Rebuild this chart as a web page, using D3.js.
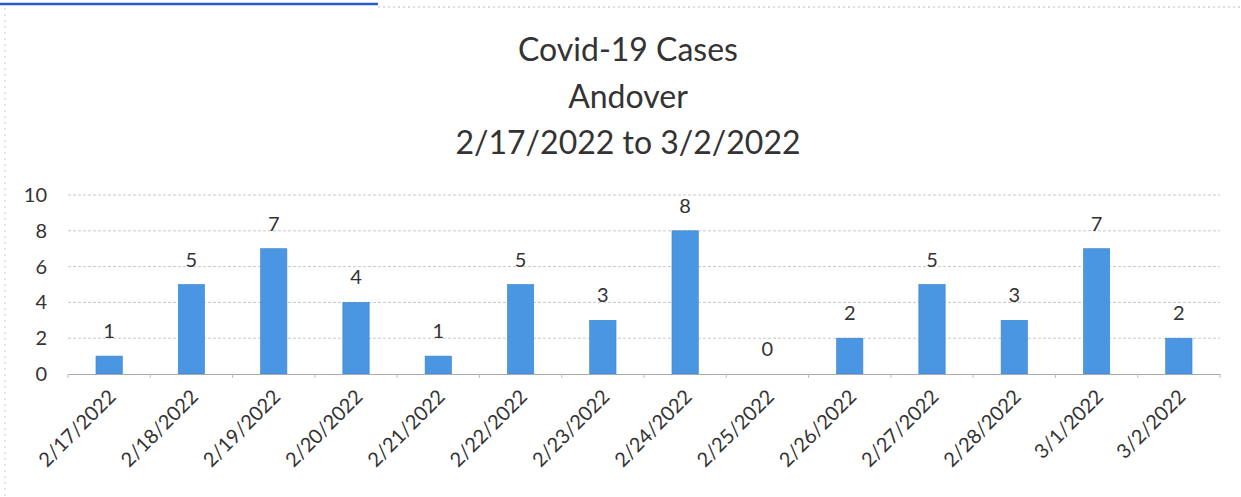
<!DOCTYPE html>
<html><head><meta charset="utf-8">
<script src="https://cdn.jsdelivr.net/npm/d3@7"></script>
<style>body{margin:0;background:#fff}svg{display:block}</style>
</head><body>
<svg id="c" width="1241" height="497"></svg>
<script>
const dates = ["2/17/2022","2/18/2022","2/19/2022","2/20/2022","2/21/2022","2/22/2022","2/23/2022","2/24/2022","2/25/2022","2/26/2022","2/27/2022","2/28/2022","3/1/2022","3/2/2022"];
const cases = [1,5,7,4,1,5,3,8,0,2,5,3,7,2];
const yTicks = [0,2,4,6,8,10];
const titleLines = ["Covid-19 Cases","Andover","2/17/2022 to 3/2/2022"];

const svg = d3.select("#c");
const font = "Lato, 'Open Sans', sans-serif";
const M = {left:68, right:1220, top:195, bottom:374};

// scan artefacts: link underline and dotted borders
svg.append("line").attr("x1",0).attr("x2",378).attr("y1",4).attr("y2",4).attr("stroke","#2a5ad8").attr("stroke-width",2.5);
svg.append("line").attr("x1",378).attr("x2",1241).attr("y1",7).attr("y2",7).attr("stroke","#bbb").attr("stroke-dasharray","2,3").attr("stroke-width",1);
svg.append("line").attr("x1",5).attr("x2",5).attr("y1",8).attr("y2",497).attr("stroke","#ccc").attr("stroke-dasharray","2,4").attr("stroke-width",1);

const x = d3.scaleBand().domain(dates).range([M.left,M.right]).paddingInner(0.68).paddingOuter(0.34);
const xb = d3.scaleBand().domain(dates).range([M.left,M.right]);
const y = d3.scaleLinear().domain([0,10]).range([M.bottom,M.top]);

// gridlines
svg.append("g").selectAll("line").data(yTicks.filter(d=>d>0)).join("line")
  .attr("x1",M.left).attr("x2",M.right).attr("y1",d=>y(d)).attr("y2",d=>y(d))
  .attr("stroke","#c8c8c8").attr("stroke-dasharray","3,2").attr("stroke-width",1);

// y axis labels
const ya = svg.append("g").attr("transform",`translate(${M.left-21},0)`)
  .call(d3.axisLeft(y).tickValues(yTicks).tickSize(0).tickPadding(0));
ya.select(".domain").remove();
ya.selectAll("text").attr("font-family",font).attr("font-size",20).attr("fill","#333");

// bars
svg.append("g").selectAll("rect").data(cases).join("rect")
  .attr("x",(d,i)=>x(dates[i])).attr("width",x.bandwidth())
  .attr("y",d=>y(d)).attr("height",d=>y(0)-y(d))
  .attr("fill","#4a96e2").attr("stroke","#3a82cc").attr("stroke-width",0.6);

// x axis
const xa = svg.append("g").attr("transform",`translate(0,${M.bottom})`)
  .call(d3.axisBottom(xb).tickSize(0).tickPadding(0));
xa.select(".domain").attr("stroke","#aaa").attr("stroke-width",1);
xa.selectAll(".tick text").remove();
svg.append("g").selectAll("line").data(dates.concat(["end"])).join("line")
  .attr("x1",(d,i)=>M.left+i*xb.step()).attr("x2",(d,i)=>M.left+i*xb.step())
  .attr("y1",M.bottom).attr("y2",M.bottom+4).attr("stroke","#bbb");

// x labels rotated
svg.append("g").selectAll("text").data(dates).join("text")
  .attr("transform",d=>`translate(${xb(d)+xb.bandwidth()/2+8},${M.bottom+24}) rotate(-45)`)
  .attr("text-anchor","end").attr("font-family",font).attr("font-size",20).attr("fill","#333")
  .text(d=>d);

// data labels
svg.append("g").selectAll("text").data(cases).join("text")
  .attr("x",(d,i)=>x(dates[i])+x.bandwidth()/2).attr("y",d=>y(d)-18)
  .attr("text-anchor","middle").attr("font-family",font).attr("font-size",20).attr("fill","#333")
  .text(d=>d);

// title
svg.append("g").selectAll("text").data(titleLines).join("text")
  .attr("x",628).attr("y",(d,i)=>61+i*46.5)
  .attr("text-anchor","middle").attr("font-family",font).attr("font-size",32).attr("fill","#333")
  .text(d=>d);
</script>
</body></html>
